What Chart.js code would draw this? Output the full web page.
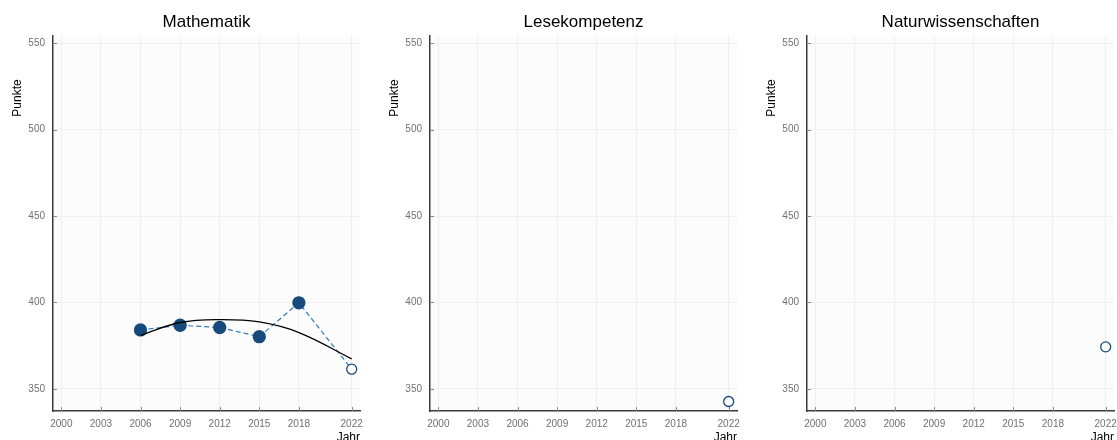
<!DOCTYPE html>
<html>
<head>
<meta charset="utf-8">
<script src="https://cdn.jsdelivr.net/npm/chart.js@4.4.0/dist/chart.umd.min.js"></script>
<style>
  html, body { margin: 0; padding: 0; background: #fff; overflow: hidden; width: 1117px; height: 440px; }
  canvas { position: absolute; top: 0; }
</style>
</head>
<body>
<canvas id="mathe" width="372" height="440" style="left:0px"></canvas>
<canvas id="lesen" width="372" height="440" style="left:377px"></canvas>
<canvas id="natur" width="372" height="440" style="left:754px"></canvas>
<script>
// Werte
const jahre = [2006, 2009, 2012, 2015, 2018, 2022];
const matheWerte = [384.1, 386.8, 385.5, 380.2, 399.8, 361.4];
const matheTrend = [381.0, 388.4, 390.1, 388.7, 382.6, 367.4];
const lesenJahre = [2022];
const lesenWerte = [342.7];
const naturJahre = [2022];
const naturWerte = [374.3];
const xTicks = [2000, 2003, 2006, 2009, 2012, 2015, 2018, 2022];
const yTicks = [350, 400, 450, 500, 550];

const fontName = '"Liberation Sans", Arial, sans-serif';
const dunkelBlau = '#174a7c';
const hellBlau = '#2b7bba';

// Hintergrund der Zeichenfläche, kleine Striche nach innen, y-Achsentitel
const panelPlugin = {
	id: 'panelPlugin',
	beforeDraw: function(chart) {
		const a = chart.chartArea;
		const c = chart.ctx;
		c.save();
		c.fillStyle = '#fcfcfc';
		c.fillRect(a.left, a.top, a.right - a.left, a.bottom - a.top);
		c.restore();
	},
	afterDraw: function(chart) {
		const a = chart.chartArea;
		const c = chart.ctx;
		const sx = chart.scales.x;
		const sy = chart.scales.y;
		c.save();
		c.strokeStyle = '#8a8a8a';
		c.lineWidth = 1;
		c.beginPath();
		xTicks.forEach(function(v) {
			const px = Math.round(sx.getPixelForValue(v)) + 0.5;
			c.moveTo(px, a.bottom);
			c.lineTo(px, a.bottom - 4);
		});
		yTicks.forEach(function(v) {
			const py = Math.round(sy.getPixelForValue(v)) + 0.5;
			c.moveTo(a.left, py);
			c.lineTo(a.left + 4, py);
		});
		c.stroke();

		c.translate(18, 98);
		c.rotate(-Math.PI / 2);
		c.font = '12px ' + fontName;
		c.fillStyle = '#000';
		c.textAlign = 'center';
		c.textBaseline = 'middle';
		c.fillText('Punkte', 0, 0);
		c.restore();
	}
};

function makePanel(id, titel, datasets) {
	const ctx = document.getElementById(id).getContext('2d');
	return new Chart(ctx, {
		type: 'line',
		data: { datasets: datasets },
		plugins: [panelPlugin],
		options: {
			responsive: false,
			animation: false,
			layout: { padding: { left: 0, right: 12, top: 0, bottom: 0 } },
			plugins: {
				legend: { display: false },
				tooltip: { enabled: false },
				title: {
					display: true,
					text: titel,
					fullSize: false,
					color: '#000',
					font: { family: fontName, size: 17, weight: 'normal' },
					padding: { top: 12, bottom: 3 }
				}
			},
			scales: {
				x: {
					type: 'linear',
					min: 1999.37,
					max: 2022.63,
					afterBuildTicks: function(scale) {
						scale.ticks = xTicks.map(function(v) { return { value: v }; });
					},
					afterFit: function(scale) { scale.height = 29; },
					ticks: {
						color: '#707070',
						font: { family: fontName, size: 10 },
						padding: 7,
						maxRotation: 0,
						autoSkip: false,
						callback: function(v) { return String(v); }
					},
					grid: { color: '#efefef', drawTicks: false },
					border: { color: '#3a3a3a', width: 1.5 },
					title: {
						display: true,
						text: 'Jahr',
						align: 'end',
						color: '#000',
						font: { family: fontName, size: 12 },
						padding: { top: 0, bottom: -5 }
					}
				},
				y: {
					min: 337.2,
					max: 554.5,
					afterBuildTicks: function(scale) {
						scale.ticks = yTicks.map(function(v) { return { value: v }; });
					},
					afterFit: function(scale) { scale.width = 53; },
					ticks: {
						color: '#707070',
						font: { family: fontName, size: 10 },
						padding: 8,
						callback: function(v) { return String(v); }
					},
					grid: { color: '#efefef', drawTicks: false },
					border: { color: '#3a3a3a', width: 1.5 }
				}
			}
		}
	});
}

function punkte(xs, ys) {
	return xs.map(function(x, i) { return { x: x, y: ys[i] }; });
}

makePanel('mathe', 'Mathematik', [
	{
		// Trendkurve
		data: punkte(jahre, matheTrend),
		borderColor: '#000',
		borderWidth: 1.3,
		pointRadius: 0,
		tension: 0.4,
		fill: false
	},
	{
		data: punkte(jahre, matheWerte),
		borderColor: hellBlau,
		borderWidth: 1.2,
		borderDash: [5, 3],
		pointRadius: jahre.map(function(j) { return j === 2022 ? 5 : 6; }),
		pointBackgroundColor: jahre.map(function(j) { return j === 2022 ? '#fff' : dunkelBlau; }),
		pointBorderColor: dunkelBlau,
		pointBorderWidth: 1.3,
		tension: 0,
		fill: false
	}
]);

makePanel('lesen', 'Lesekompetenz', [
	{
		data: punkte(lesenJahre, lesenWerte),
		showLine: false,
		pointRadius: 5,
		pointBackgroundColor: '#fff',
		pointBorderColor: dunkelBlau,
		pointBorderWidth: 1.3
	}
]);

makePanel('natur', 'Naturwissenschaften', [
	{
		data: punkte(naturJahre, naturWerte),
		showLine: false,
		pointRadius: 5,
		pointBackgroundColor: '#fff',
		pointBorderColor: dunkelBlau,
		pointBorderWidth: 1.3
	}
]);
</script>
</body>
</html>
